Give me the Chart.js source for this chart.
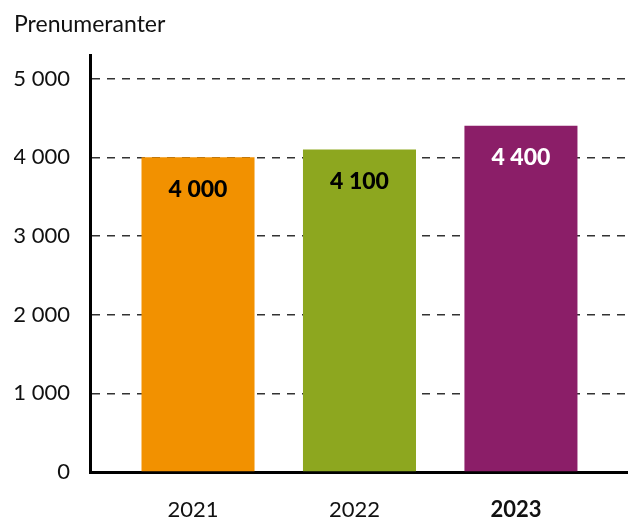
<!DOCTYPE html>
<html>
<head>
<meta charset="utf-8">
<script src="https://cdn.jsdelivr.net/npm/chart.js@4/dist/chart.umd.min.js"></script>
<style>
  html, body { margin: 0; padding: 0; background: #fff; }
  #wrap { width: 628px; height: 521px; }
</style>
</head>
<body>
<div id="wrap"><canvas id="chart"></canvas></div>
<script>
// Data
const years = ['2021', '2022', '2023'];
const subscribers = [4000, 4100, 4400];
const barColors = ['#F29100', '#8DA71F', '#8B1E68'];
const labelColors = ['#000000', '#000000', '#ffffff'];
const yTicks = [0, 1000, 2000, 3000, 4000, 5000];

const FONT = 'Lato, "Open Sans", sans-serif';

// space as thousands separator
function fmt(v) {
  return String(v).replace(/\B(?=(\d{3})+(?!\d))/g, ' ');
}

// Value labels inside the bars
const barLabels = {
  id: 'barLabels',
  afterDatasetsDraw(chart) {
    const ctx = chart.ctx;
    const meta = chart.getDatasetMeta(0);
    ctx.save();
    ctx.font = '900 23px ' + FONT;
    ctx.textAlign = 'center';
    ctx.textBaseline = 'middle';
    meta.data.forEach((bar, i) => {
      ctx.fillStyle = labelColors[i];
      ctx.fillText(fmt(subscribers[i]), bar.x, bar.y + 32);
    });
    ctx.restore();
  }
};

new Chart(document.getElementById('chart'), {
  type: 'bar',
  data: {
    datasets: [{
      data: subscribers.map((v, i) => ({ x: i, y: v })),
      backgroundColor: barColors,
      borderWidth: 0,
      barPercentage: 1,
      categoryPercentage: 0.7
    }]
  },
  options: {
    responsive: true,
    maintainAspectRatio: false,
    animation: false,
    layout: { padding: { left: 14, right: 0, top: 0, bottom: 0 } },
    plugins: {
      legend: { display: false },
      tooltip: { enabled: false },
      title: {
        display: true,
        text: 'Prenumeranter',
        align: 'start',
        color: '#111',
        font: { family: FONT, size: 23, weight: 'normal' },
        padding: { top: 11, bottom: 17 }
      }
    },
    scales: {
      x: {
        type: 'linear',
        offset: false,
        min: -0.669,
        max: 2.663,
        afterBuildTicks: (scale) => { scale.ticks = years.map((y, i) => ({ value: i })); },
        afterFit: (scale) => { scale.height = 49; },
        grid: { display: false, drawTicks: false, offset: false },
        border: { display: true, color: '#000', width: 3 },
        ticks: {
          padding: 25,
          labelOffset: -5,
          color: '#111',
          autoSkip: false,
          maxRotation: 0,
          callback: (v) => years[v],
          font: (c) => ({ family: FONT, size: 22, weight: c.index === 2 ? 'bold' : 'normal' })
        }
      },
      y: {
        min: 0,
        max: 5292,
        afterBuildTicks: (scale) => { scale.ticks = yTicks.map(v => ({ value: v })); },
        afterFit: (scale) => { scale.width = 76; },
        grid: {
          color: (c) => c.tick && c.tick.value === 0 ? 'rgba(0,0,0,0)' : '#333',
          lineWidth: 1.5,
          drawTicks: false
        },
        border: { display: true, color: '#000', width: 3, dash: [8, 7] },
        ticks: {
          padding: 20,
          color: '#111',
          font: { family: FONT, size: 22 },
          callback: (v) => fmt(v)
        }
      }
    }
  },
  plugins: [barLabels]
});
</script>
</body>
</html>
